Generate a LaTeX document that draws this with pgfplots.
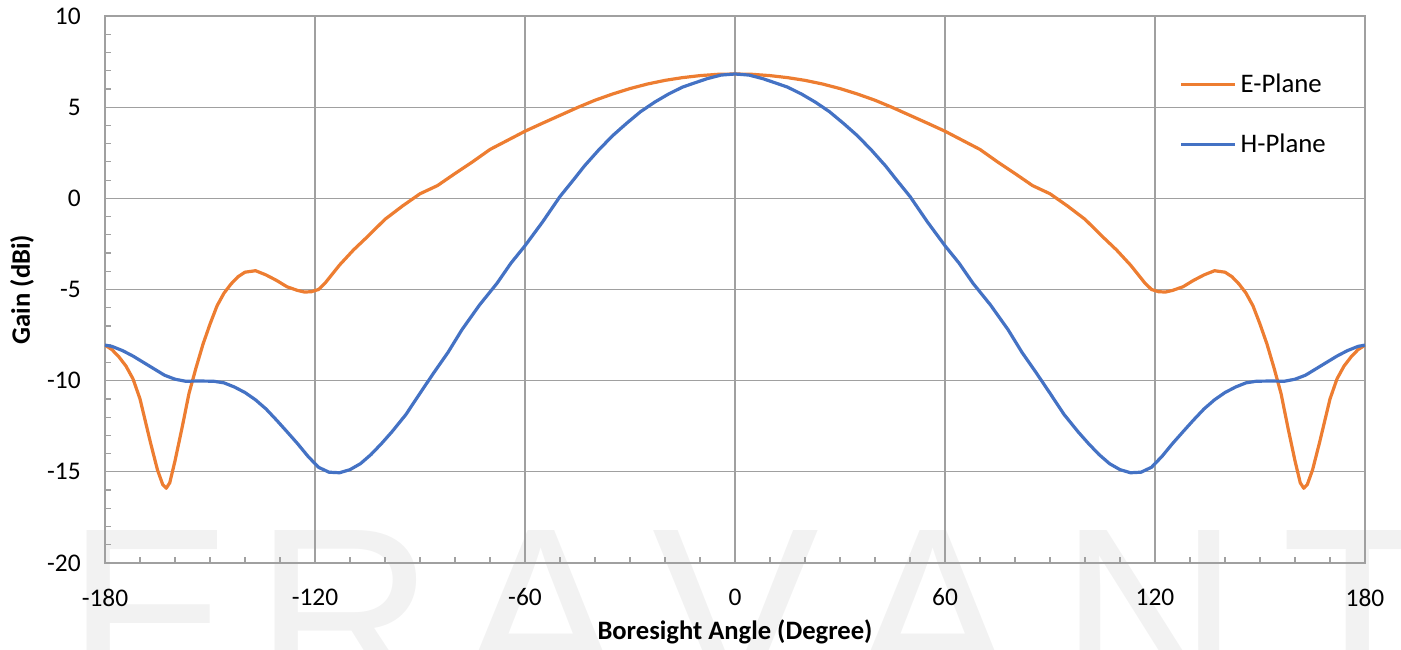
\documentclass[border=0pt]{standalone}
\usepackage{fontspec}
\setmainfont{Carlito}
\newfontfamily\wmfont{Liberation Sans}
\usepackage{pgfplots}
\pgfplotsset{compat=1.18}
\definecolor{eorange}{HTML}{ED7D31}
\definecolor{hblue}{HTML}{4472C4}
\definecolor{gridgray}{HTML}{A0A0A0}
\definecolor{wm}{HTML}{F2F2F2}
\begin{document}
\begin{tikzpicture}
\begin{scope}[every node/.style={inner sep=0pt, anchor=north, text=wm, font=\wmfont\fontsize{125}{125}\selectfont}]
\node at (22.5pt,16.5pt) {E};
\node at (120pt,16.5pt) {R};
\node at (218pt,16.5pt) {A};
\node at (315.5pt,16.5pt) {V};
\node at (414pt,16.5pt) {A};
\node at (522.5pt,16.5pt) {N};
\node at (626.5pt,16.5pt) {T};
\end{scope}
\begin{axis}[
  width=630pt, height=273.5pt, scale only axis,
  xmin=-180, xmax=180, ymin=-20, ymax=10,
  xtick={-180,-120,...,180}, xticklabels={-180,-120,-60,0,60,120,180},
  ytick={-20,-15,...,10}, yticklabels={-20,-15,-10,-5,0,5,10},
  minor x tick num=5, minor y tick num=4,
  xtick pos=lower, ytick pos=left, tick align=inside,
  grid=major, major grid style={gridgray, line width=0.6pt},
  axis line style={gridgray, line width=0.6pt},
  every tick/.style={gridgray, line width=0.6pt},
  major tick length=3pt, minor tick length=3pt,
  ticklabel style={font=\fontsize{12.7}{15}\selectfont, text=black},
  xticklabel style={yshift=-9.3pt},
  yticklabel style={xshift=-8.6pt},
  xlabel={Boresight Angle (Degree)}, ylabel={Gain (dBi)},
  label style={font=\bfseries\fontsize{13.3}{15}\selectfont},
  xlabel style={at={(axis description cs:0.5,-0.1261)}, anchor=center},
  ylabel style={at={(axis description cs:-0.0659,0.5)}, anchor=center},
  legend style={draw=none, fill=none, at={(axis description cs:0.8524,0.8200)}, anchor=west,
    row sep=15pt, font=\fontsize{13.4}{15}\selectfont, inner sep=0pt},
  legend cell align=left,
  legend image code/.code={\draw[#1] (0pt,0pt) -- (27pt,0pt);},
]
\addplot[eorange, line width=1.6pt, line join=round] coordinates {
(-180,-8.05) (-178,-8.30) (-176,-8.70) (-174,-9.20) (-172,-9.90) (-170,-11.00) (-168.5,-12.20) (-167,-13.40) (-165,-14.90) (-163.5,-15.70) (-162.5,-15.90) (-161.5,-15.60) (-160,-14.40) (-158,-12.60) (-156,-10.70) (-154,-9.30) (-152,-8.00) (-150,-6.90) (-148,-5.90) (-146,-5.20) (-144,-4.70) (-142,-4.30) (-140,-4.05) (-137,-3.97) (-134,-4.20) (-131,-4.50) (-128,-4.85) (-125,-5.05) (-123,-5.14) (-121,-5.12) (-119,-5.00) (-117,-4.62) (-113,-3.66) (-109,-2.83) (-105,-2.10) (-100,-1.15) (-95,-0.42) (-90,0.25) (-85,0.70) (-80,1.36) (-75,2.00) (-70,2.68) (-65,3.18) (-60,3.68) (-55,4.12) (-50,4.55) (-45,4.98) (-40,5.38) (-35,5.72) (-30,6.02) (-25,6.27) (-20,6.47) (-15,6.62) (-10,6.73) (-5,6.80)
(0,6.82)
(5,6.80) (10,6.73) (15,6.62) (20,6.47) (25,6.27) (30,6.02) (35,5.72) (40,5.38) (45,4.98) (50,4.55) (55,4.12) (60,3.68) (65,3.18) (70,2.68) (75,2.00) (80,1.36) (85,0.70) (90,0.25) (95,-0.42) (100,-1.15) (105,-2.10) (109,-2.83) (113,-3.66) (117,-4.62) (119,-5.00) (121,-5.12) (123,-5.14) (125,-5.05) (128,-4.85) (131,-4.50) (134,-4.20) (137,-3.97) (140,-4.05) (142,-4.30) (144,-4.70) (146,-5.20) (148,-5.90) (150,-6.90) (152,-8.00) (154,-9.30) (156,-10.70) (158,-12.60) (160,-14.40) (161.5,-15.60) (162.5,-15.90) (163.5,-15.70) (165,-14.90) (167,-13.40) (168.5,-12.20) (170,-11.00) (172,-9.90) (174,-9.20) (176,-8.70) (178,-8.30) (180,-8.05)
};
\addlegendentry{E-Plane}
\addplot[hblue, line width=1.6pt, line join=round] coordinates {
(-180,-8.05) (-178,-8.12) (-175,-8.35) (-172,-8.65) (-169,-9.00) (-166,-9.35) (-163,-9.70) (-160,-9.92) (-157,-10.03) (-153,-10.02) (-149,-10.03) (-146,-10.12) (-143,-10.35) (-140,-10.65) (-137,-11.05) (-134,-11.55) (-131,-12.16) (-128,-12.80) (-125,-13.45) (-122,-14.15) (-119,-14.75) (-116,-15.02) (-113,-15.05) (-110,-14.88) (-107,-14.55) (-104,-14.05) (-101,-13.45) (-98,-12.80) (-94,-11.85) (-90,-10.69) (-86,-9.55) (-82,-8.45) (-78,-7.20) (-73,-5.85) (-68,-4.66) (-64,-3.55) (-60,-2.60) (-55,-1.30) (-50,0.10) (-46,1.05) (-43,1.78) (-39,2.64) (-35,3.43) (-31,4.11) (-27,4.75) (-23,5.27) (-19,5.72) (-15,6.10) (-12,6.30) (-8,6.56) (-4,6.76)
(0,6.82)
(4,6.76) (8,6.56) (12,6.30) (15,6.10) (19,5.72) (23,5.27) (27,4.75) (31,4.11) (35,3.43) (39,2.64) (43,1.78) (46,1.05) (50,0.10) (55,-1.30) (60,-2.60) (64,-3.55) (68,-4.66) (73,-5.85) (78,-7.20) (82,-8.45) (86,-9.55) (90,-10.69) (94,-11.85) (98,-12.80) (101,-13.45) (104,-14.05) (107,-14.55) (110,-14.88) (113,-15.05) (116,-15.02) (119,-14.75) (122,-14.15) (125,-13.45) (128,-12.80) (131,-12.16) (134,-11.55) (137,-11.05) (140,-10.65) (143,-10.35) (146,-10.12) (149,-10.03) (153,-10.02) (157,-10.03) (160,-9.92) (163,-9.70) (166,-9.35) (169,-9.00) (172,-8.65) (175,-8.35) (178,-8.12) (180,-8.05)
};
\addlegendentry{H-Plane}
\end{axis}
\pgfresetboundingbox
\path (-52.5pt,-43pt) rectangle (648pt,281.5pt);
\end{tikzpicture}
\end{document}
